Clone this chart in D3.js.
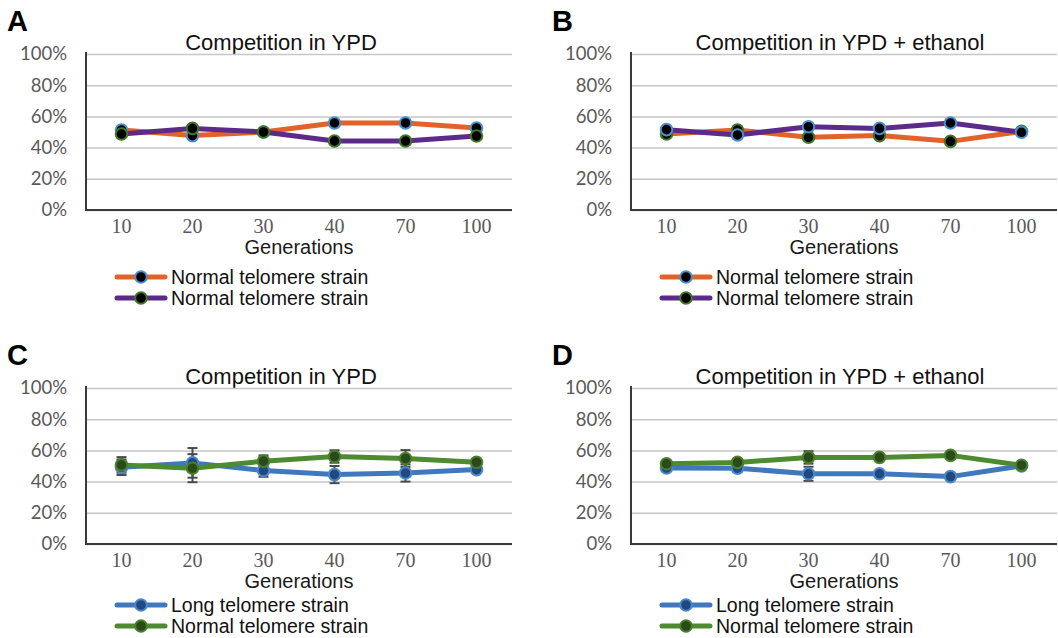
<!DOCTYPE html>
<html>
<head>
<meta charset="utf-8">
<script src="https://cdn.jsdelivr.net/npm/d3@7"></script>
<style>
  body { margin: 0; background: #fff; }
  svg { display: block; }
</style>
</head>
<body>
<div id="chart"></div>
<script>
// categories and ticks
const generations = ["10", "20", "30", "40", "70", "100"];
const yTicks = [0, 20, 40, 60, 80, 100];

// panel A - competition in YPD (%)
const aOrange = [51.3, 47.7, 50.0, 55.8, 55.8, 52.6];
const aPurple = [48.7, 52.3, 50.0, 44.2, 44.2, 47.4];

// panel B - competition in YPD + ethanol (%)
const bOrange = [48.7, 51.3, 46.6, 47.7, 44.0, 50.4];
const bPurple = [51.5, 48.1, 53.4, 52.3, 55.8, 49.8];

// panel C - competition in YPD (%), with error
const cLong = [49.2, 52.0, 47.1, 44.5, 45.5, 47.7];
const cNormal = [50.7, 48.6, 53.1, 56.1, 54.8, 52.4];
const cLongErr = [5, 9.5, 4, 5.5, 5.5, 1];
const cNormalErr = [5, 9, 3.7, 4, 5.4, 1];

// panel D - competition in YPD + ethanol (%), with error
const dLong = [48.7, 48.6, 45.0, 45.0, 43.2, 50.1];
const dNormal = [51.4, 52.3, 55.5, 55.5, 56.8, 50.5];
const dLongErr = [1.5, 2.5, 4.5, 1.5, 1.5, 1];
const dNormalErr = [1.5, 2, 4, 1.5, 2, 1];

const W = 1058, H = 638;

// colours
const ORANGE = "#e2632a", PURPLE = "#5c2a88";
const BLUE = "#3f78bd", BLUE_DARK = "#23487f", BLUE_EDGE = "#4a88cc";
const GREEN = "#4e8a2f", GREEN_DARK = "#2b4a1c", GREEN_EDGE = "#4a7f2c";

const panels = [
  { label: "A", title: "Competition in YPD", left: 86, top: 54, titleDx: -18, legendDy: 67,
    series: [
      { name: "Normal telomere strain", values: aOrange, line: ORANGE, fill: "#000", edge: "#4a90d0", legendEdge: "#4a90d0" },
      { name: "Normal telomere strain", values: aPurple, line: PURPLE, fill: "#000", edge: "#3f7a22", legendEdge: "#3f7a22" }
    ] },
  { label: "B", title: "Competition in YPD + ethanol", left: 631, top: 54, titleDx: -4, legendDy: 67,
    series: [
      { name: "Normal telomere strain", values: bOrange, line: ORANGE, fill: "#000", edge: "#3f7a22", legendEdge: "#4a90d0" },
      { name: "Normal telomere strain", values: bPurple, line: PURPLE, fill: "#000", edge: "#4a90d0", legendEdge: "#3f7a22" }
    ] },
  { label: "C", title: "Competition in YPD", left: 86, top: 388, titleDx: -18, legendDy: 61,
    series: [
      { name: "Long telomere strain", values: cLong, err: cLongErr, line: BLUE, fill: BLUE_DARK, edge: BLUE_EDGE, legendEdge: BLUE_EDGE },
      { name: "Normal telomere strain", values: cNormal, err: cNormalErr, line: GREEN, fill: GREEN_DARK, edge: GREEN_EDGE, legendEdge: GREEN_EDGE }
    ] },
  { label: "D", title: "Competition in YPD + ethanol", left: 631, top: 388, titleDx: -4, legendDy: 61,
    series: [
      { name: "Long telomere strain", values: dLong, err: dLongErr, line: BLUE, fill: BLUE_DARK, edge: BLUE_EDGE, legendEdge: BLUE_EDGE },
      { name: "Normal telomere strain", values: dNormal, err: dNormalErr, line: GREEN, fill: GREEN_DARK, edge: GREEN_EDGE, legendEdge: GREEN_EDGE }
    ] }
];

const plotW = 426, plotH = 156;
const markerR = 5.8;

const svg = d3.select("#chart").append("svg")
  .attr("width", W).attr("height", H);

panels.forEach(p => {
  const g = svg.append("g").attr("transform", `translate(${p.left},${p.top})`);

  const x = d3.scaleBand().domain(generations).range([0, plotW]);
  const y = d3.scaleLinear().domain([0, 100]).range([plotH, 0]);

  // panel letter
  svg.append("text")
    .attr("x", p.left - 79).attr("y", p.top - 23)
    .attr("font-family", "Liberation Sans, Arial, sans-serif")
    .attr("font-weight", "bold").attr("font-size", 29)
    .text(p.label);

  // title
  g.append("text")
    .attr("x", plotW / 2 + p.titleDx).attr("y", -4)
    .attr("text-anchor", "middle")
    .attr("font-family", "Liberation Sans, Arial, sans-serif")
    .attr("font-size", 22).attr("fill", "#111")
    .text(p.title);

  // y axis with gridlines
  const yAxis = d3.axisLeft(y).tickValues(yTicks).tickSize(-plotW).tickPadding(19)
    .tickFormat(d => d + "%");
  const yG = g.append("g").call(yAxis);
  yG.select(".domain").remove();
  yG.selectAll(".tick line").attr("stroke", "#c6c6c6").attr("stroke-width", 1.5);
  yG.selectAll(".tick text")
    .attr("font-family", "Lato, Carlito, sans-serif").attr("font-size", 18.5)
    .attr("fill", "#595959");

  // x axis labels
  const xAxis = d3.axisBottom(x).tickSize(0).tickPadding(9);
  const xG = g.append("g").attr("transform", `translate(0,${plotH})`).call(xAxis);
  xG.select(".domain").remove();
  xG.selectAll(".tick text")
    .attr("font-family", "Liberation Serif, Times New Roman, serif").attr("font-size", 20)
    .attr("fill", "#595959");

  // axis lines
  g.append("line").attr("x1", 0).attr("x2", plotW).attr("y1", plotH).attr("y2", plotH)
    .attr("stroke", "#3a3a3a").attr("stroke-width", 2);
  g.append("line").attr("x1", 0).attr("x2", 0).attr("y1", -2).attr("y2", plotH + 1)
    .attr("stroke", "#3a3a3a").attr("stroke-width", 2);

  // x axis title
  g.append("text")
    .attr("x", plotW / 2).attr("y", plotH + 44)
    .attr("text-anchor", "middle")
    .attr("font-family", "Liberation Sans, Arial, sans-serif")
    .attr("font-size", 20).attr("fill", "#1a1a1a")
    .text("Generations");

  const cx = d => x(d) + x.bandwidth() / 2;

  // error bars (behind lines)
  p.series.forEach(s => {
    if (!s.err) return;
    const eg = g.append("g").attr("stroke", "#4a4a4a").attr("stroke-width", 2);
    generations.forEach((gen, i) => {
      const hi = y(s.values[i] + s.err[i]), lo = y(s.values[i] - s.err[i]);
      eg.append("line").attr("x1", cx(gen)).attr("x2", cx(gen)).attr("y1", hi).attr("y2", lo);
      eg.append("line").attr("x1", cx(gen) - 5).attr("x2", cx(gen) + 5).attr("y1", hi).attr("y2", hi);
      eg.append("line").attr("x1", cx(gen) - 5).attr("x2", cx(gen) + 5).attr("y1", lo).attr("y2", lo);
    });
  });

  const line = d3.line().x((d, i) => cx(generations[i])).y(d => y(d));

  p.series.forEach(s => {
    g.append("path").datum(s.values)
      .attr("d", line)
      .attr("fill", "none").attr("stroke", s.line)
      .attr("stroke-width", 5).attr("stroke-linejoin", "round");
    g.selectAll(null).data(s.values).join("circle")
      .attr("cx", (d, i) => cx(generations[i])).attr("cy", d => y(d))
      .attr("r", markerR)
      .attr("fill", s.fill).attr("stroke", s.edge).attr("stroke-width", 2);
  });

  // legend
  const lg = g.append("g").attr("transform", `translate(31,${plotH + p.legendDy})`);
  p.series.forEach((s, i) => {
    const row = lg.append("g").attr("transform", `translate(0,${i * 21})`);
    row.append("line").attr("x1", 0).attr("x2", 48).attr("y1", 0).attr("y2", 0)
      .attr("stroke", s.line).attr("stroke-width", 5).attr("stroke-linecap", "round");
    row.append("circle").attr("cx", 24).attr("cy", 0).attr("r", markerR)
      .attr("fill", s.fill).attr("stroke", s.legendEdge).attr("stroke-width", 2);
    row.append("text").attr("x", 54).attr("y", 0).attr("dy", "0.35em")
      .attr("font-family", "Liberation Sans, Arial, sans-serif")
      .attr("font-size", 19.5).attr("fill", "#111")
      .text(s.name);
  });
});
</script>
</body>
</html>
